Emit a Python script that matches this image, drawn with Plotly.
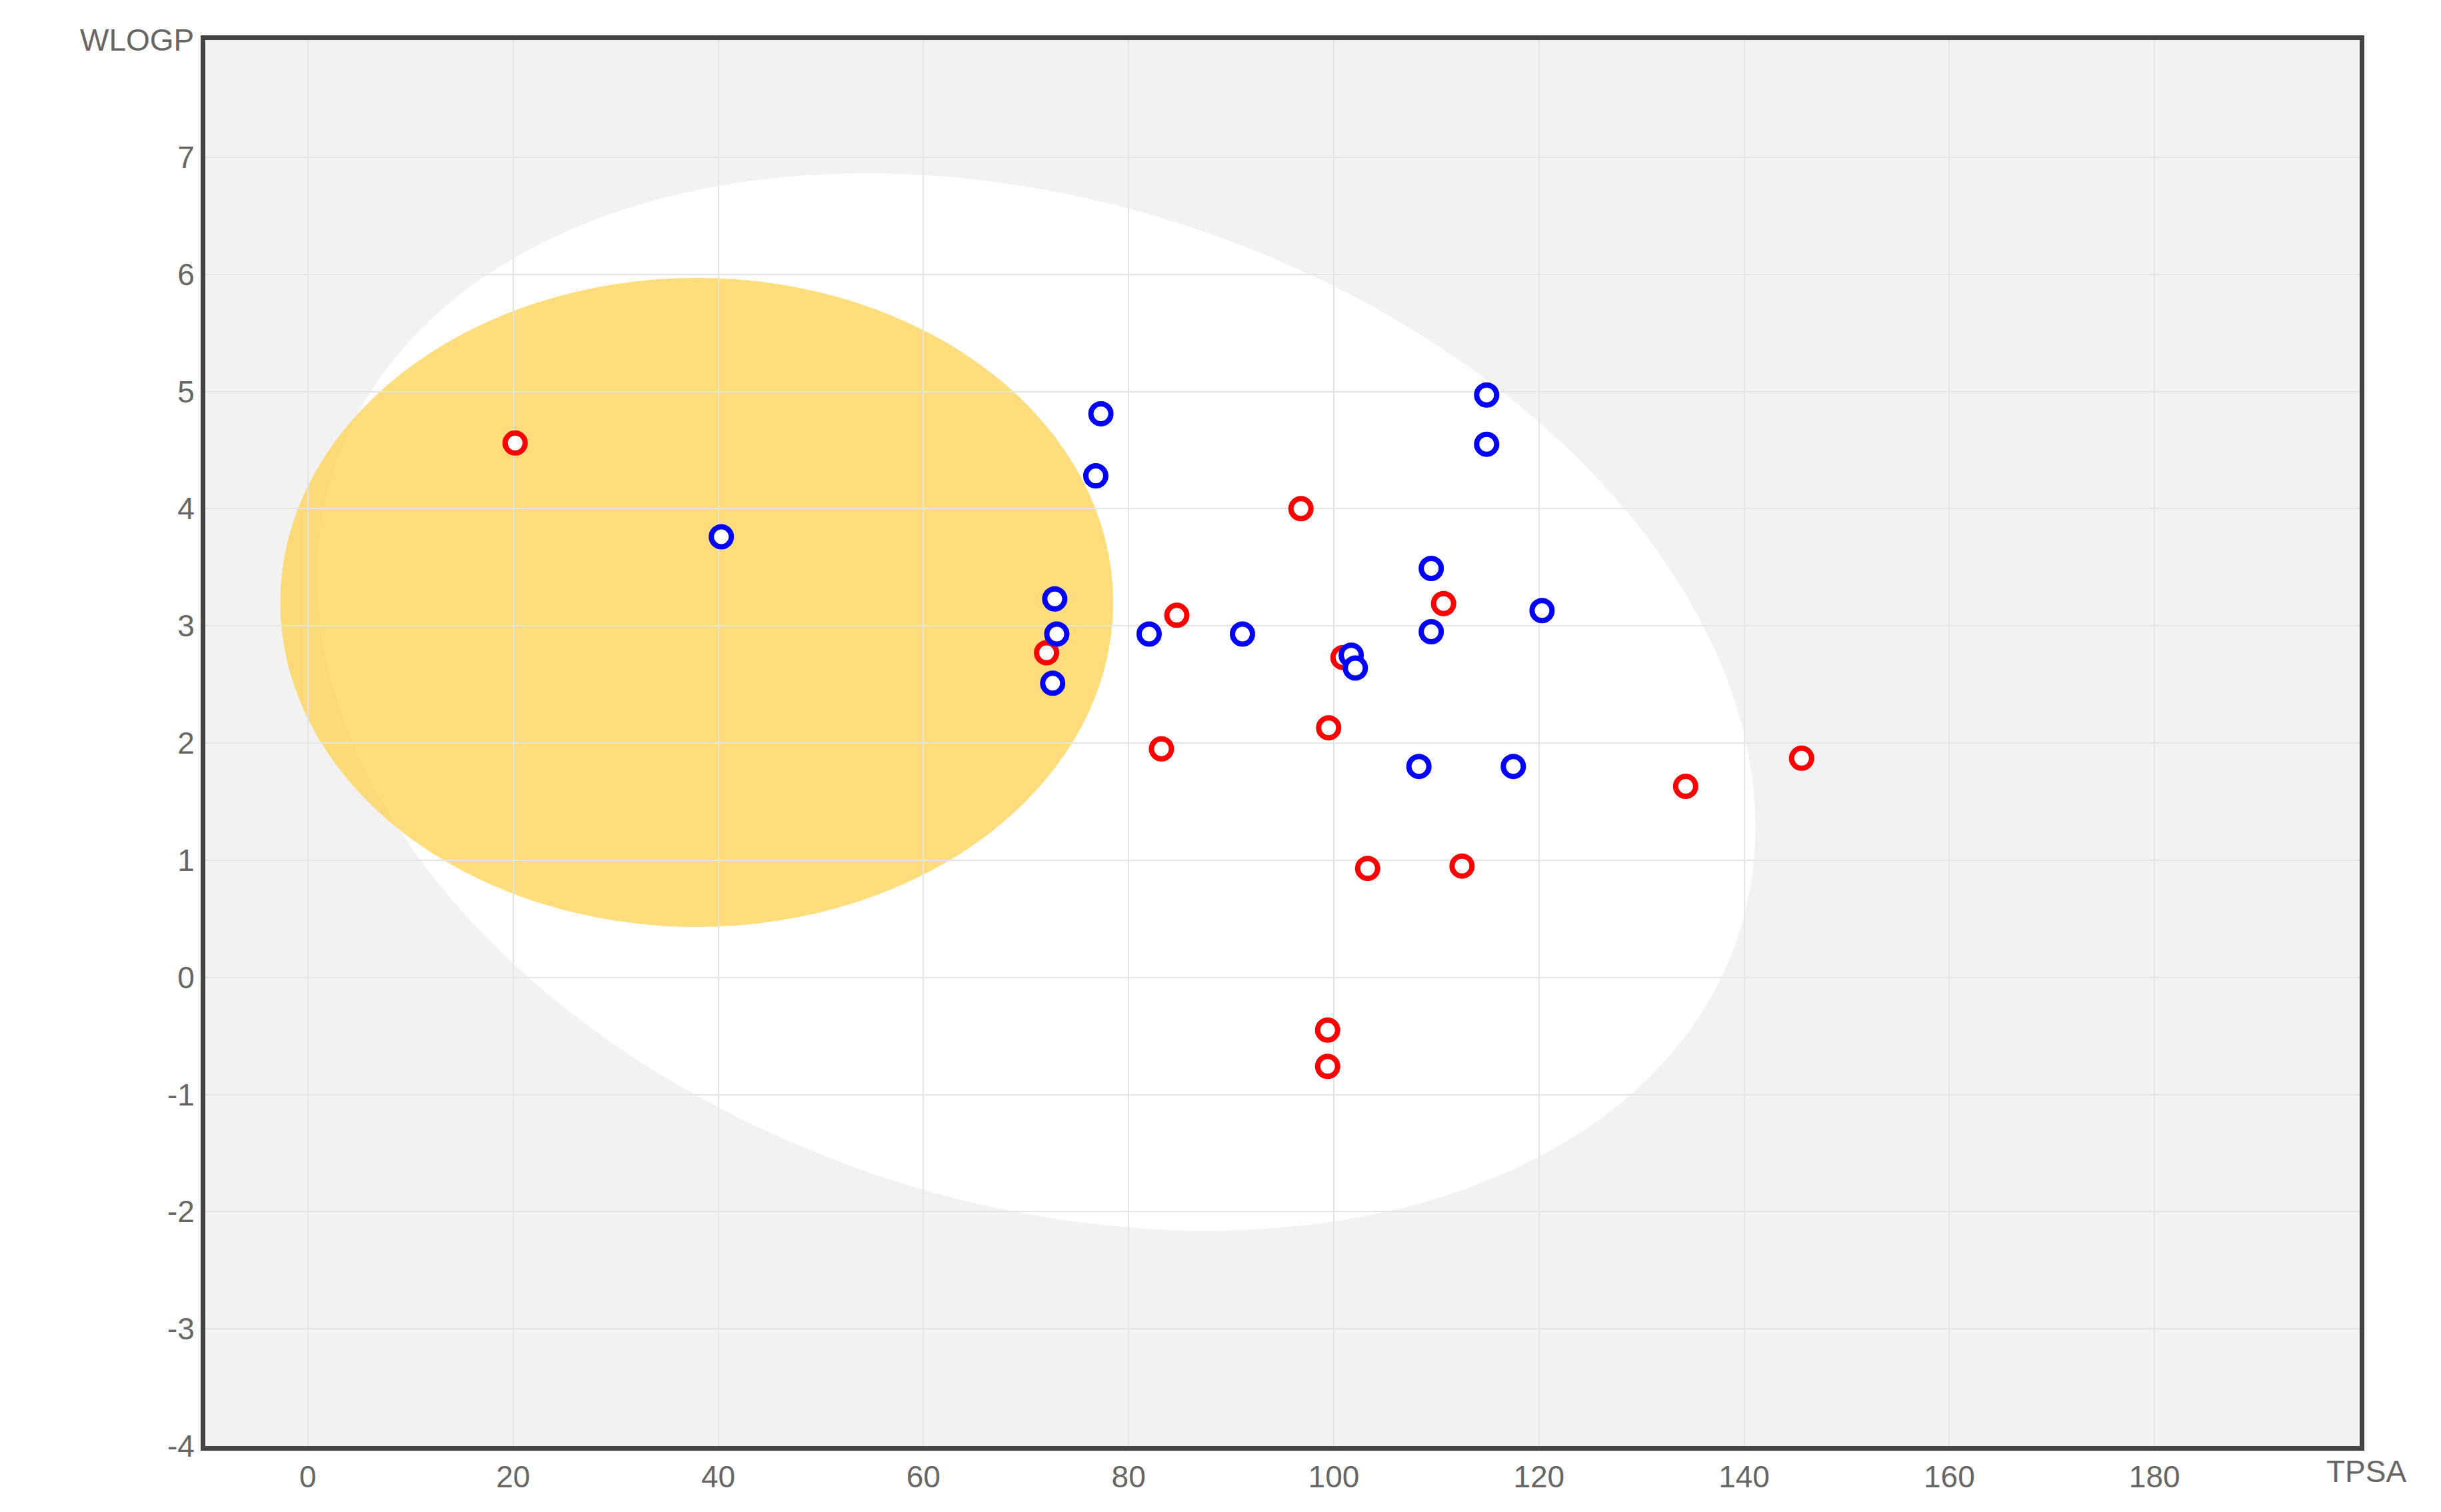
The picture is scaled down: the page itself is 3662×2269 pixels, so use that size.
import numpy as np
import plotly.graph_objects as go

red_tpsa = [20.2, 96.8, 84.7, 72.0, 100.9, 110.7, 99.5, 83.2, 134.3, 145.6, 103.3, 112.5, 99.4, 99.4]
red_wlogp = [4.56, 4.0, 3.09, 2.77, 2.73, 3.19, 2.13, 1.95, 1.63, 1.87, 0.93, 0.95, -0.45, -0.76]
blue_tpsa = [40.3, 77.3, 76.8, 72.8, 73.0, 72.6, 82.0, 91.1, 101.7, 102.1, 109.5, 109.5, 114.9, 114.9, 120.3, 108.3, 117.5]
blue_wlogp = [3.76, 4.81, 4.28, 3.23, 2.93, 2.51, 2.93, 2.93, 2.75, 2.64, 3.49, 2.95, 4.97, 4.55, 3.13, 1.80, 1.80]
x_ticks = list(range(0, 181, 20))
y_ticks = list(range(-4, 8))
y_labels = [str(v) for v in y_ticks]  # plain hyphen minus as in reference

# white region: rotated ellipse estimated in screen units, mapped to data
px_per_x, px_per_y = 6.65, 75.0
t = np.linspace(0, 2 * np.pi, 200)
a, b, th = 479, 320, np.radians(18)
ex = a * np.cos(t) * np.cos(th) - b * np.sin(t) * np.sin(th)
ey = a * np.cos(t) * np.sin(th) + b * np.sin(t) * np.cos(th)
wx = 71.0 + ex / px_per_x
wy = 2.35 - ey / px_per_y
white_path = "M " + " L ".join(f"{x:.3f},{y:.3f}" for x, y in zip(wx, wy)) + " Z"

fig = go.Figure()
fig.add_shape(type="path", path=white_path, fillcolor="white", line_width=0, layer="below")
fig.add_shape(type="circle", x0=37.9 - 40.6, x1=37.9 + 40.6, y0=3.2 - 2.77, y1=3.2 + 2.77,
              fillcolor="rgba(255,210,80,0.75)", line_width=0, layer="below")

for xs, ys, col in [(red_tpsa, red_wlogp, "red"), (blue_tpsa, blue_wlogp, "blue")]:
    fig.add_trace(go.Scatter(x=xs, y=ys, mode="markers", showlegend=False,
                             marker=dict(size=30, color="white", line=dict(color=col, width=8))))

axis_common = dict(showgrid=True, gridcolor="#e4e4e4", gridwidth=2, zeroline=False,
                   showline=True, linecolor="#444", linewidth=7, mirror=True,
                   tickfont=dict(family="Liberation Sans", size=46, color="#666"), ticks="")
fig.update_xaxes(range=[-10, 200], tickvals=x_ticks, **axis_common)
fig.update_yaxes(range=[-4, 8], tickvals=y_ticks, ticktext=y_labels, **axis_common)

fig.add_annotation(text="WLOGP", x=0, y=1, xref="paper", yref="paper", xanchor="right", yanchor="middle",
                   xshift=-15, showarrow=False, font=dict(family="Liberation Sans", size=46, color="#666"))
fig.add_annotation(text="TPSA", x=1, y=0, xref="paper", yref="paper", xanchor="center", yanchor="top",
                   xshift=10, yshift=-10, showarrow=False, font=dict(family="Liberation Sans", size=46, color="#666"))

fig.update_layout(width=3662, height=2269, paper_bgcolor="white", plot_bgcolor="#f2f2f2",
                  margin=dict(l=300, r=130, t=52, b=107))
fig.write_html("out.html")
